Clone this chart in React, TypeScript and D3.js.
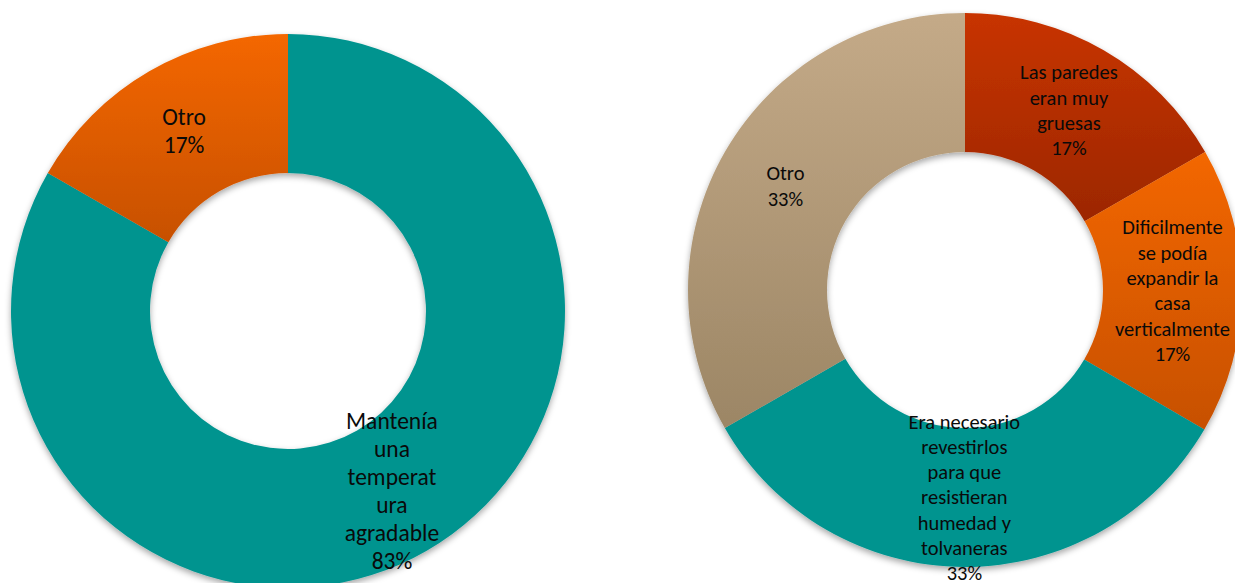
import React from "react";
import * as d3 from "d3";

// Left donut
const leftCategories: string[][] = [
  ["Mantenía", "una", "temperat", "ura", "agradable"],
  ["Otro"],
];
const leftValues = [83.3, 16.7];
const leftColors = [
  ["#00948F", "#00948F"],
  ["#F46700", "#C75000"],
];

// Right donut
const rightCategories: string[][] = [
  ["Las paredes", "eran muy", "gruesas"],
  ["Dificilmente", "se podía", "expandir la", "casa", "verticalmente"],
  ["Era necesario", "revestirlos", "para que", "resistieran", "humedad y", "tolvaneras"],
  ["Otro"],
];
const rightValues = [16.7, 16.7, 33.3, 33.3];
const rightColors = [
  ["#C83400", "#9C2700"],
  ["#F36700", "#C75000"],
  ["#00948F", "#00948F"],
  ["#C4AA88", "#9C8665"],
];

type DonutProps = {
  id: string;
  cx: number;
  cy: number;
  outer: number;
  inner: number;
  values: number[];
  cats: string[][];
  colors: string[][];
  fontSize: number;
  lineH: number;
};

function Donut({ id, cx, cy, outer, inner, values, cats, colors, fontSize, lineH }: DonutProps) {
  const pie = d3.pie<number>().sort(null).value((d) => d);
  const arcs = pie(values);
  const arc = d3.arc<d3.PieArcDatum<number>>().innerRadius(inner).outerRadius(outer);
  const total = d3.sum(values);
  return (
    <g transform={`translate(${cx},${cy})`}>
      <defs>
        {colors.map((c, i) => (
          <linearGradient key={i} id={`${id}-g${i}`} x1="0" y1="0" x2="0" y2="1">
            <stop offset="0" stopColor={c[0]} />
            <stop offset="1" stopColor={c[1]} />
          </linearGradient>
        ))}
      </defs>
      <g filter="url(#shadow)">
        {arcs.map((a, i) => (
          <path key={i} d={arc(a) || ""} fill={`url(#${id}-g${i})`} />
        ))}
      </g>
      {arcs.map((a, i) => {
        const [x, y] = arc.centroid(a);
        const lines = [...cats[i], `${Math.round((a.value / total) * 100)}%`];
        const y0 = y - ((lines.length - 1) * lineH) / 2;
        return (
          <text
            key={i}
            x={x}
            y={y0}
            textAnchor="middle"
            dominantBaseline="central"
            fontFamily="Carlito, Lato, 'Open Sans', sans-serif"
            fontSize={fontSize}
            fill="#0a0a0a"
          >
            {lines.map((l, j) => (
              <tspan key={j} x={x} y={y0 + j * lineH}>
                {l}
              </tspan>
            ))}
          </text>
        );
      })}
    </g>
  );
}

export default function App() {
  return (
    <svg
      width={1235}
      height={583}
      style={{ position: "absolute", left: 0, top: 0, display: "block", background: "#fff" }}
    >
      <defs>
        <filter id="shadow" x="-10%" y="-10%" width="120%" height="120%">
          <feDropShadow dx="0" dy="3" stdDeviation="3" floodColor="#000" floodOpacity="0.35" />
        </filter>
      </defs>
      <Donut
        id="L"
        cx={288}
        cy={311}
        outer={277}
        inner={138}
        values={leftValues}
        cats={leftCategories}
        colors={leftColors}
        fontSize={23.5}
        lineH={28}
      />
      <Donut
        id="R"
        cx={965}
        cy={290}
        outer={277}
        inner={138}
        values={rightValues}
        cats={rightCategories}
        colors={rightColors}
        fontSize={20.5}
        lineH={25.3}
      />
    </svg>
  );
}
